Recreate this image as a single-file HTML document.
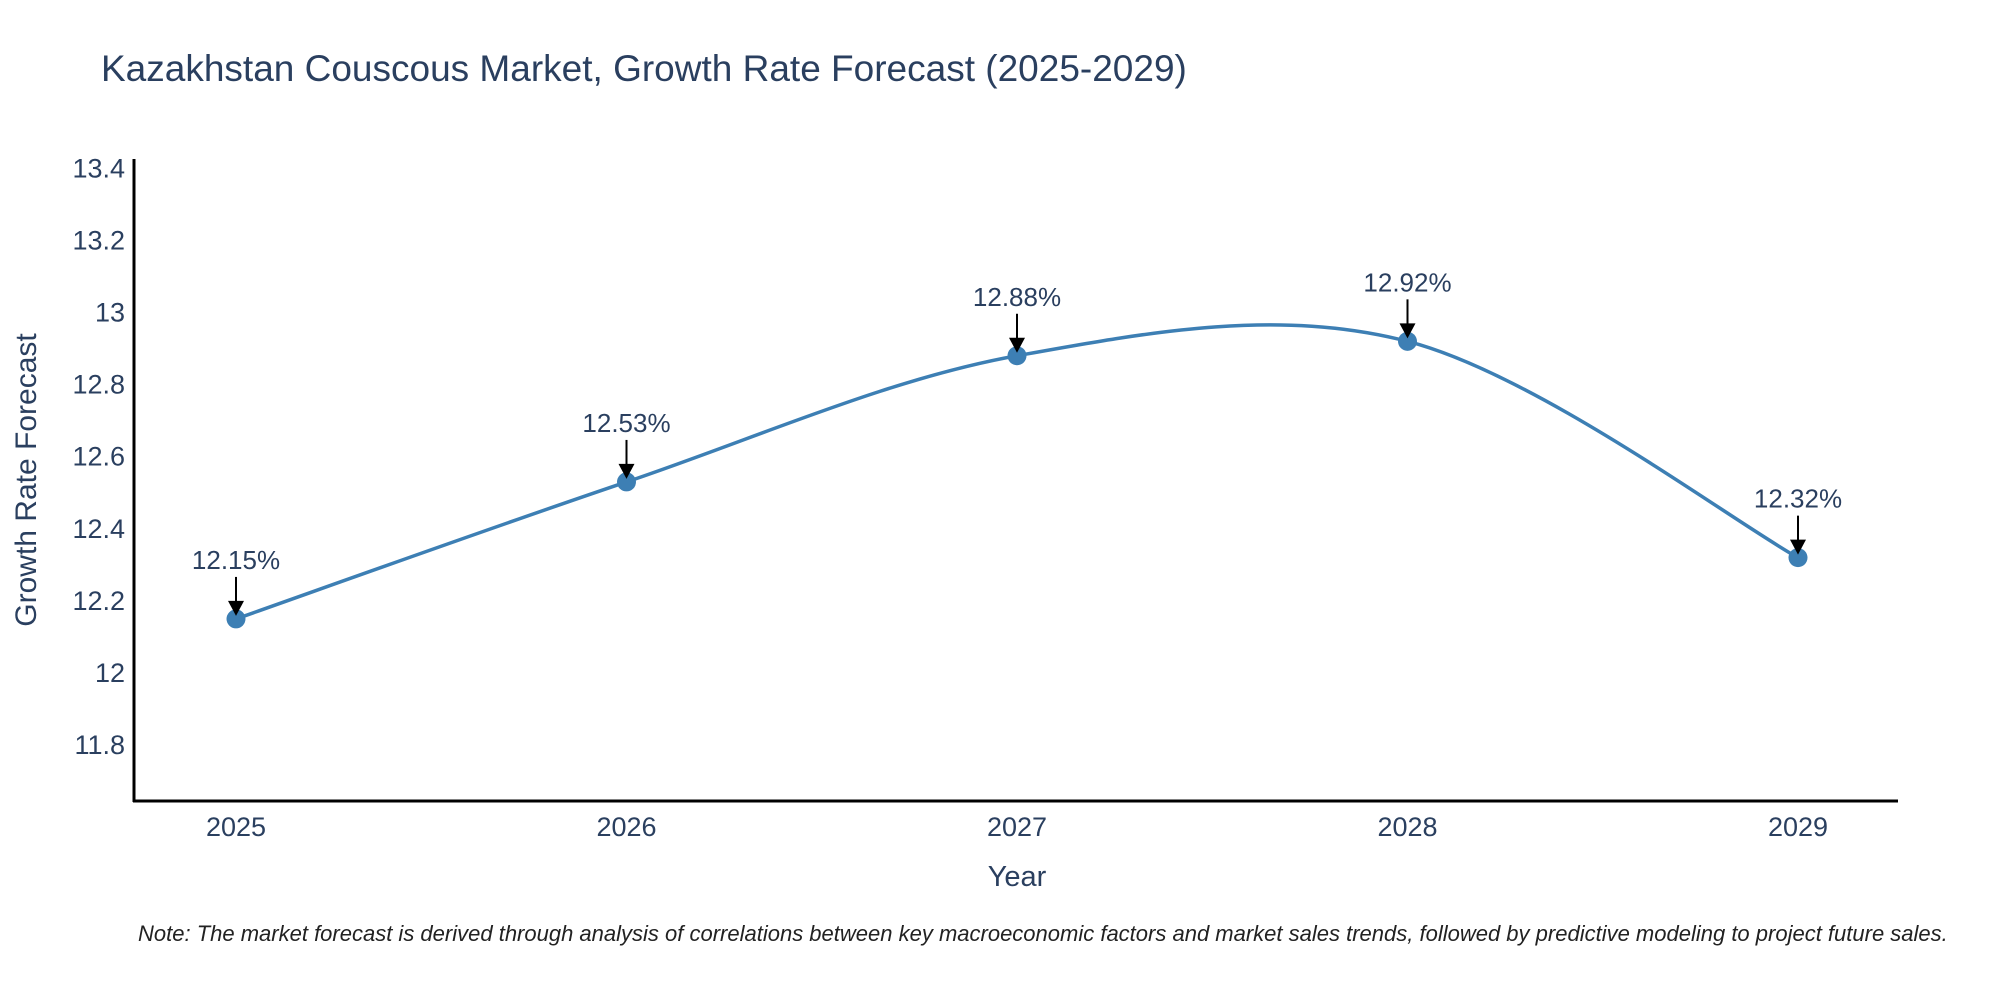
<!DOCTYPE html>
<html><head><meta charset="utf-8"><style>
body{margin:0;background:#fff;}
svg text{font-family:"Liberation Sans",sans-serif;}
</style></head><body>
<svg id="chart" width="2000" height="1000" xmlns="http://www.w3.org/2000/svg">
<text x="101" y="81" font-size="37" fill="#2a3f5f">Kazakhstan Couscous Market, Growth Rate Forecast (2025-2029)</text>
<text transform="translate(36,480) rotate(-90)" text-anchor="middle" font-size="30" fill="#2a3f5f">Growth Rate Forecast</text>
<text x="1017" y="886" text-anchor="middle" font-size="29" fill="#2a3f5f">Year</text>
<text x="138" y="941" font-size="22" font-style="italic" fill="#222">Note: The market forecast is derived through analysis of correlations between key macroeconomic factors and market sales trends, followed by predictive modeling to project future sales.</text>
<g id="axes"></g>
<g id="plot"></g>
</svg>
<script>
const years=[2025,2026,2027,2028,2029];
const values=[12.15,12.53,12.88,12.92,12.32];
const labels=["12.15%","12.53%","12.88%","12.92%","12.32%"];
const yTicks=[11.8,12,12.2,12.4,12.6,12.8,13,13.2,13.4];
const yTickLabels=["11.8","12","12.2","12.4","12.6","12.8","13","13.2","13.4"];

const NS="http://www.w3.org/2000/svg";
const X0=134,X1=1898,Y0=159,Y1=801;
function xs(v){return 236+(v-2025)*390.5;}
function ys(v){return 673-(v-12)/0.2*72.1;}
function mk(t,a,p){const e=document.createElementNS(NS,t);for(const k in a)e.setAttribute(k,a[k]);p.appendChild(e);return e;}
const axes=document.getElementById('axes'),plot=document.getElementById('plot');
const yl=mk('line',{x1:X0,y1:Y0,x2:X0,y2:Y1+1,stroke:'#000','stroke-width':3},axes);


const xl=mk('line',{x1:X0-1,y1:Y1,x2:X1,y2:Y1,stroke:'#000','stroke-width':3},axes);


yTicks.forEach((v,i)=>{const t=mk('text',{x:X0-9,y:ys(v)+9,'text-anchor':'end','font-size':27,fill:'#2a3f5f'},axes);t.textContent=yTickLabels[i];

});
years.forEach(v=>{const t=mk('text',{x:xs(v),y:836,'text-anchor':'middle','font-size':27,fill:'#2a3f5f'},axes);t.textContent=String(v);

});
const pts=years.map((y,i)=>[xs(y),ys(values[i])]);
let d='M'+pts[0][0]+','+pts[0][1];
const n=pts.length;
for(let i=0;i<n-1;i++){
 const p0=pts[Math.max(0,i-1)],p1=pts[i],p2=pts[i+1],p3=pts[Math.min(n-1,i+2)];
 const c1=[p1[0]+(p2[0]-p0[0])/6,p1[1]+(p2[1]-p0[1])/6];
 const c2=[p2[0]-(p3[0]-p1[0])/6,p2[1]-(p3[1]-p1[1])/6];
 d+=' C'+c1[0]+','+c1[1]+' '+c2[0]+','+c2[1]+' '+p2[0]+','+p2[1];
}
const line=mk('path',{d:d,fill:'none',stroke:'#3d7fb4','stroke-width':3.5},plot);


pts.forEach((p,i)=>{
 const c=mk('circle',{cx:p[0],cy:p[1],r:9.5,fill:'#3d7fb4'},plot);
 
 
 const a=mk('line',{x1:p[0],y1:p[1]-42,x2:p[0],y2:p[1]-16,stroke:'#000','stroke-width':2},plot);
 
 
 const h=mk('polygon',{points:(p[0]-8)+','+(p[1]-18)+' '+(p[0]+8)+','+(p[1]-18)+' '+p[0]+','+(p[1]-3),fill:'#000'},plot);
 
 
 const t=mk('text',{x:p[0],y:p[1]-50,'text-anchor':'middle','font-size':26,fill:'#2a3f5f'},plot);
 t.textContent=labels[i];
 
 
});
</script>
</body></html>
